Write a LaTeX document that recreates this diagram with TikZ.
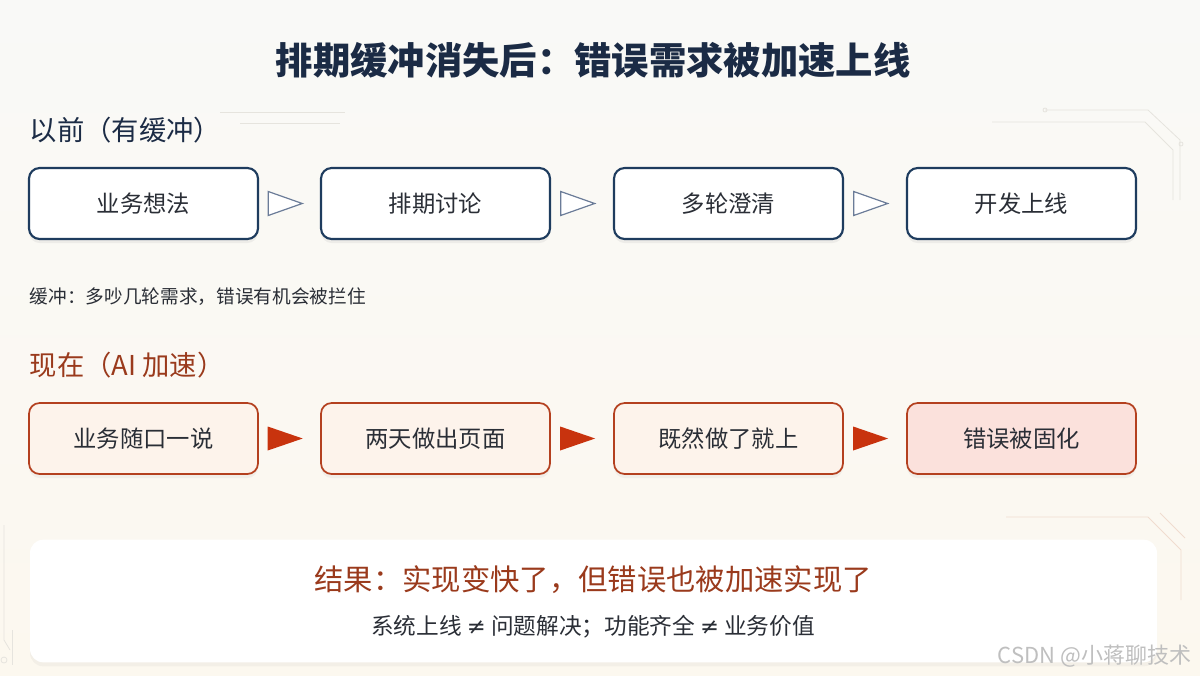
\documentclass[tikz,border=0pt]{standalone}
\usepackage{fontspec}
\setmainfont{Noto Sans CJK SC}
\newfontfamily\symf{DejaVu Sans}
\usetikzlibrary{calc,shadows}
\definecolor{bgtop}{HTML}{F9F9F7}
\definecolor{bgbot}{HTML}{FCF8EF}
\definecolor{navy}{HTML}{1B2B45}
\definecolor{navyline}{HTML}{1E3C5E}
\definecolor{hollowc}{HTML}{6B7C98}
\definecolor{rust}{HTML}{9A3A1C}
\definecolor{rustline}{HTML}{B4401F}
\definecolor{arrred}{HTML}{C8330E}
\definecolor{creamfill}{HTML}{FDF3EB}
\definecolor{pinkfill}{HTML}{FBE1DC}
\definecolor{txt}{HTML}{2A2E36}
\definecolor{deco}{HTML}{E6E4DE}
\definecolor{decow}{HTML}{F0DCCF}
\begin{document}
\begin{tikzpicture}[x=0.75pt,y=-0.75pt,
  oldbox/.style={draw=navyline,line width=1.6pt,fill=white,rounded corners=8pt,
    minimum width=171.75pt,minimum height=53.25pt,font=\fontsize{17.5}{21}\selectfont,text=txt,
    drop shadow={opacity=0.10,shadow xshift=0pt,shadow yshift=-3pt}},
  newbox/.style={draw=rustline,line width=1.3pt,fill=creamfill,rounded corners=8pt,
    minimum width=171.75pt,minimum height=53.25pt,font=\fontsize{17.5}{21}\selectfont,text=txt,
    drop shadow={opacity=0.08,shadow xshift=0pt,shadow yshift=-3pt}},
  hollowarr/.style={draw=hollowc,line width=0.9pt,fill=white,line join=miter},
  solidarr/.style={fill=arrred,draw=none},
  sectitle/.style={anchor=west,font=\fontsize{20.5}{24}\selectfont},
  decoline/.style={draw=deco,line width=0.6pt}]
\shade[top color=bgtop,bottom color=bgbot] (0,0) rectangle (1200,675);
\useasboundingbox (0,0) rectangle (1200,675);
% faint decorations
\draw[decoline] (1045,110) -- (1148,110) -- (1180,140) -- (1180,200);
\draw[decoline] (992,122) -- (1145,122) -- (1173,150) -- (1173,200);
\draw[decoline] (1045,110) circle (2);
\draw[decoline] (1181,144) circle (2);
\draw[decoline] (220,112) -- (345,112);
\draw[decoline] (240,123) -- (340,123);
\draw[decoline,draw=decow] (1006,517) -- (1148,517) -- (1181,550) -- (1181,600);
\draw[decoline,draw=decow] (1160,513) -- (1185,538);
\draw[decoline] (4,525) -- (4,640) -- (10,650);
\draw[decoline] (12,630) -- (12,665);
\draw[decoline] (4,660) circle (3);
% title
\node[font=\fontsize{28}{32}\selectfont\bfseries,text=navy] (title) at (593,60) {排期缓冲消失后：错误需求被加速上线};
% before
\node[sectitle,text=navy] (before) at (25,130) {以前（有缓冲）};
\node[oldbox] (b1) at (143.5,203.5) {业务想法};
\node[oldbox] (b2) at (435.5,203.5) {排期讨论};
\node[oldbox] (b3) at (728.5,203.5) {多轮澄清};
\node[oldbox] (b4) at (1021.5,203.5) {开发上线};
\foreach \a/\b in {b1/b2,b2/b3,b3/b4}{
  \coordinate (h\a) at ($(\a.east)!0.43!(\b.west)$);
  \draw[hollowarr] (h\a) ++(-17,-12) -- ++(34,12) -- ++(-34,12) -- cycle;
}
\node[anchor=west,font=\fontsize{14}{17}\selectfont,text=txt] (note) at (25,297) {缓冲：多吵几轮需求，错误有机会被拦住};
% now
\node[sectitle,text=rust] (now) at (25,365) {现在（AI 加速）};
\node[newbox] (n1) at (143.5,438.5) {业务随口一说};
\node[newbox] (n2) at (435.5,438.5) {两天做出页面};
\node[newbox] (n3) at (728.5,438.5) {既然做了就上};
\node[newbox,fill=pinkfill] (n4) at (1021.5,438.5) {错误被固化};
\foreach \a/\b in {n1/n2,n2/n3,n3/n4}{
  \coordinate (s\a) at ($(\a.east)!0.43!(\b.west)$);
  \fill[solidarr] (s\a) ++(-17.5,-12) -- ++(35,12) -- ++(-35,12) -- cycle;
}
% result panel
\node[fill=white,rounded corners=10pt,minimum width=845.25pt,minimum height=92pt,
  drop shadow={opacity=0.07,shadow xshift=0pt,shadow yshift=-3pt}] (panel) at (593.5,601) {};
\node[font=\fontsize{22}{26}\selectfont,text=rust] (res) at (593,580) {结果：实现变快了，但错误也被加速实现了};
\node[font=\fontsize{17}{20}\selectfont,text=txt] (sub) at (593,627) {系统上线 {\symf ≠} 问题解决；功能齐全 {\symf ≠} 业务价值};
% watermark
\node[anchor=east,font=\fontsize{16.5}{19}\selectfont,text=black!25] (wm) at (1196,656) {CSDN @小蒋聊技术};
\end{tikzpicture}
\end{document}
